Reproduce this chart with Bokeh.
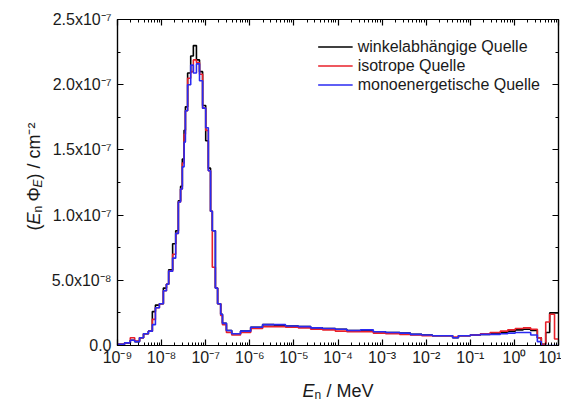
import numpy as np
from bokeh.plotting import figure
from bokeh.layouts import row, column
from bokeh.models import (FixedTicker, LogAxis, LinearAxis, Label, Range1d,
                          CustomJSTickFormatter)
from bokeh.embed import file_html
from bokeh.resources import INLINE

# ---------------- data (energy bin edges as log10(E/MeV), values in 1e-8 cm^-2) ----
log_edges = [-9.00, -8.84, -8.71, -8.61, -8.50, -8.41, -8.30, -8.21, -8.14, -8.05,
             -7.96, -7.89, -7.84, -7.75, -7.68, -7.62, -7.57, -7.53, -7.49, -7.46,
             -7.41, -7.34, -7.28, -7.21, -7.14, -7.07, -7.00, -6.94, -6.89, -6.85,
             -6.78, -6.73, -6.66, -6.62, -6.53, -6.41, -6.21, -5.98, -5.71, -5.45,
             -5.19, -4.90, -4.62, -4.35, -4.06, -3.80, -3.49, -3.20, -2.92, -2.60,
             -2.36, -2.10, -1.86, -1.40, -1.27, -1.00, -0.77, -0.55, -0.32, -0.15,
             0.02, 0.20, 0.37, 0.52, 0.61, 0.71, 0.80, 0.91, 1.00]

black = [0.1, 0.2, 0.4, 0.3, 0.6, 0.9, 1.1, 2.6, 3.1, 3.2,
         4.4, 4.7, 5.8, 7.8, 8.8, 11.1, 12.2, 14.3, 16.5, 18.3,
         20.9, 22.2, 23.0, 21.9, 21.0, 18.4, 15.7, 13.6, 10.3, 8.8,
         4.4, 3.2, 2.4, 1.7, 1.15, 0.9, 1.1, 1.4, 1.6, 1.55,
         1.5, 1.45, 1.35, 1.3, 1.25, 1.15, 1.15, 1.05, 1.0, 0.95,
         0.85, 0.8, 0.75, 0.6, 0.75, 0.8, 0.85, 0.9, 1.0, 1.1,
         1.2, 1.25, 1.15, 0.6, 0.1, 1.0, 2.5, 2.5]

red = [0.1, 0.2, 0.6, 0.35, 0.6, 0.9, 1.1, 2.0, 2.9, 3.2,
       4.2, 4.7, 5.7, 7.0, 8.6, 11.0, 12.0, 14.0, 16.2, 18.0,
       20.5, 21.0, 21.9, 21.7, 20.8, 18.2, 16.5, 13.4, 10.3, 6.0,
       4.4, 3.2, 2.3, 1.6, 1.0, 0.8, 1.0, 1.3, 1.45, 1.45,
       1.4, 1.35, 1.25, 1.2, 1.1, 1.05, 1.05, 0.95, 0.9, 0.85,
       0.8, 0.75, 0.75, 0.65, 0.75, 0.8, 0.9, 1.0, 1.1, 1.2,
       1.3, 1.35, 1.25, 0.6, 0.1, 1.8, 2.4, 0.5]

blue = [0.1, 0.2, 0.4, 0.3, 0.6, 0.9, 1.1, 1.6, 2.9, 3.2,
        4.2, 4.7, 5.7, 6.7, 8.6, 11.0, 12.0, 13.7, 15.6, 18.0,
        20.0, 21.5, 20.9, 21.6, 20.3, 18.2, 16.7, 13.4, 10.3, 8.8,
        4.4, 3.2, 2.4, 1.7, 1.15, 0.9, 1.1, 1.4, 1.6, 1.6,
        1.5, 1.45, 1.35, 1.3, 1.25, 1.15, 1.2, 1.05, 1.0, 0.95,
        0.85, 0.8, 0.75, 0.6, 0.75, 0.8, 0.85, 0.85, 0.9, 0.95,
        1.0, 1.0, 0.8, 0.3, 0.0, 0.0, 0.0, 0.0]

series_names = ["winkelabhängige Quelle", "isotrope Quelle", "monoenergetische Quelle"]
series_colors = ["#000000", "#e8202a", "#2a2af2"]

x_decades = list(range(-9, 2))
y_ticks = [0.0, 5e-8, 1e-7, 1.5e-7, 2e-7, 2.5e-7]
y_minor = [2.5e-8, 7.5e-8, 1.25e-7, 1.75e-7, 2.25e-7]

FONT = "Liberation Sans"
TXT = "#1a1a1a"
YT_W = 48          # width of the strip holding the rotated y title
MAIN_W, MAIN_H = 561 - YT_W, 372
XT_H = 28          # height of the strip holding the x title

# ---------------- main figure ----------------
p = figure(width=MAIN_W, height=MAIN_H, x_axis_type="log",
           x_range=Range1d(1e-9, 10), y_range=Range1d(0, 2.5e-7),
           output_backend="svg", toolbar_location=None,
           min_border_left=117 - YT_W, min_border_right=3,
           min_border_top=19, min_border_bottom=27)
p.grid.visible = False
p.outline_line_color = "black"
p.outline_line_width = 1.2
p.background_fill_color = "white"
p.border_fill_color = "white"

edges = 10.0 ** np.array(log_edges)
for vals, name, col in zip([black, red, blue], series_names, series_colors):
    yv = np.array(vals + [vals[-1]]) * 1e-8
    p.step(edges, yv, mode="after", line_color=col, line_width=1.6,
           legend_label=name)

sup_js = """
const sup = {"-":"\\u207b","0":"\\u2070","1":"\\u00b9","2":"\\u00b2","3":"\\u00b3",
             "4":"\\u2074","5":"\\u2075","6":"\\u2076","7":"\\u2077","8":"\\u2078","9":"\\u2079"};
function s(e) { return String(e).split("").map(c => sup[c]).join(""); }
"""
x_fmt = CustomJSTickFormatter(code=sup_js + """
const e = Math.round(Math.log10(tick));
return "10" + s(e);
""")
y_fmt = CustomJSTickFormatter(code=sup_js + """
if (Math.abs(tick) < 1e-15) return "0.0";
const e = Math.floor(Math.log10(Math.abs(tick)) + 1e-9);
const m = tick / Math.pow(10, e);
return m.toFixed(1) + "x10" + s(e);
""")
blank_fmt = CustomJSTickFormatter(code='return " ";')

x_major = [10.0 ** d for d in x_decades]
x_minor = [k * 10.0 ** d for d in x_decades[:-1] for k in range(2, 10)]


def style(ax, labels=True):
    ax.axis_line_color = "black"
    ax.axis_line_width = 1.2
    ax.major_tick_in = 6
    ax.major_tick_out = 0
    ax.minor_tick_in = 3
    ax.minor_tick_out = 0
    ax.major_tick_line_color = "black"
    ax.minor_tick_line_color = "black"
    ax.major_tick_line_width = 1.2
    ax.minor_tick_line_width = 1
    if labels:
        ax.major_label_text_font = FONT
        ax.major_label_text_font_size = "16px"
        ax.major_label_text_color = TXT
    else:
        ax.major_label_text_font_size = "2px"
        ax.major_label_text_alpha = 0
        ax.major_label_standoff = 0


xa = p.xaxis[0]
xa.ticker = FixedTicker(ticks=x_major, minor_ticks=x_minor)
xa.formatter = x_fmt
style(xa)
xa.major_label_standoff = 3

ya = p.yaxis[0]
ya.ticker = FixedTicker(ticks=y_ticks, minor_ticks=y_minor)
ya.formatter = y_fmt
style(ya)
ya.major_label_standoff = 6

top = LogAxis(ticker=FixedTicker(ticks=x_major, minor_ticks=x_minor), formatter=blank_fmt)
style(top, labels=False)
p.add_layout(top, "above")
right = LinearAxis(ticker=FixedTicker(ticks=y_ticks, minor_ticks=y_minor), formatter=blank_fmt)
style(right, labels=False)
p.add_layout(right, "right")

lg = p.legend[0]
lg.location = "top_right"
lg.border_line_alpha = 0
lg.background_fill_alpha = 0
lg.label_text_font = FONT
lg.label_text_font_size = "16px"
lg.label_text_color = TXT
lg.glyph_width = 35
lg.glyph_height = 19
lg.label_height = 19
lg.label_standoff = 5
lg.spacing = 0
lg.padding = 6
lg.margin = 12


# ---------------- title strips (rich text composed of pieces) ----------------
def strip(w, h):
    f = figure(width=w, height=h, x_range=Range1d(0, 1), y_range=Range1d(0, 1),
               output_backend="svg", toolbar_location=None,
               x_axis_location=None, y_axis_location=None,
               min_border_left=0, min_border_right=0,
               min_border_top=0, min_border_bottom=0)
    f.grid.visible = False
    f.outline_line_color = None
    f.background_fill_color = "white"
    f.border_fill_color = "white"
    return f


def lab(f, x, y, text, size="18px", style="normal", angle=0.0):
    f.add_layout(Label(x=x, y=y, x_units="screen", y_units="screen", text=text,
                       text_font=FONT, text_font_size=size, text_font_style=style,
                       text_color=TXT, angle=angle, text_align="left",
                       text_baseline="alphabetic"))


# y title: (E_n Φ_E) / cm^-2  (rotated, reading upwards)
H = MAIN_H + XT_H
yt = strip(YT_W, H)
A = np.pi / 2
lab(yt, 33, H - 230, "(", angle=A)
lab(yt, 33, H - 224, "E", style="italic", angle=A)
lab(yt, 37, H - 212, "n", size="12px", angle=A)
lab(yt, 33, H - 201, "\u03a6", angle=A)
lab(yt, 37, H - 187, "E", size="12px", style="italic", angle=A)
lab(yt, 33, H - 179, ") / cm\u207b\u00b2", angle=A)

# x title: E_n / MeV   (x measured from the left edge of the plot frame)
xt = strip(MAIN_W, XT_H)
lab(xt, 185, 10, "E", style="italic")
lab(xt, 197, 6, "n", size="12px")
lab(xt, 209, 10, "/ MeV")

layout = row(yt, column(p, xt, spacing=0), spacing=0)
open("out.html", "w").write(file_html(layout, INLINE))
